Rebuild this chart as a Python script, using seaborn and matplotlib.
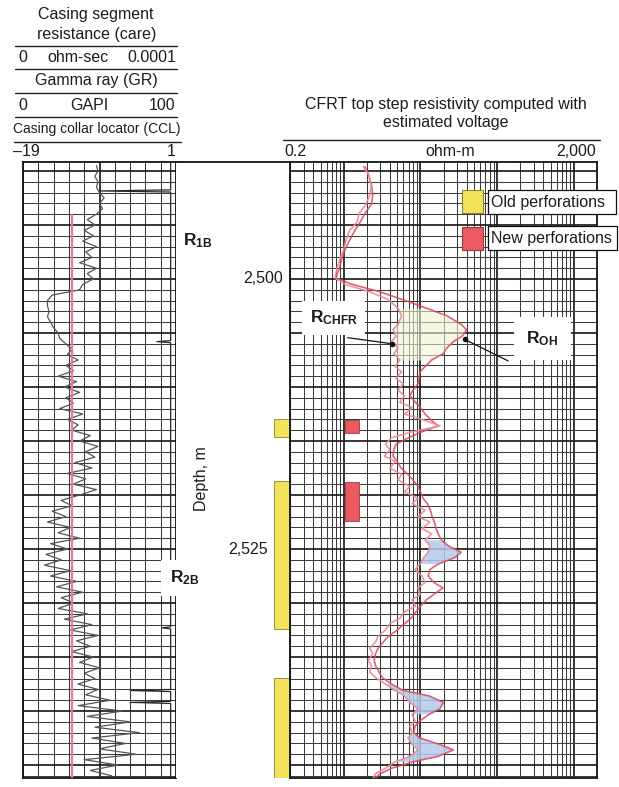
import numpy as np
import pandas as pd
import matplotlib
matplotlib.use("Agg")
import matplotlib.pyplot as plt
import seaborn as sns
from matplotlib.ticker import MultipleLocator, FixedLocator, LogLocator, NullFormatter
from matplotlib.lines import Line2D
from matplotlib.patches import Rectangle

# ---------------- data ----------------
# Gamma ray (GAPI) vs depth (m)
gr_depth = [2489.5, 2490.0, 2490.5, 2491.0, 2491.5, 2492.0, 2492.5, 2493.0, 2493.5, 2494.0,
            2494.5, 2495.0, 2495.5, 2496.0, 2496.5, 2497.0, 2497.5, 2498.0, 2498.5, 2499.0,
            2499.5, 2500.0, 2500.5, 2501.0, 2501.5, 2502.0, 2502.5, 2503.0, 2503.5, 2504.0,
            2504.5, 2505.0, 2505.5, 2506.0, 2506.5, 2507.0, 2507.5, 2508.0, 2508.5, 2509.0,
            2509.5, 2510.0, 2510.5, 2511.0, 2511.5, 2512.0, 2512.5, 2513.0, 2513.5, 2514.0,
            2514.5, 2515.0, 2515.5, 2516.0, 2516.5, 2517.0, 2517.5, 2518.0, 2518.5, 2519.0,
            2519.5, 2520.0, 2520.5, 2521.0, 2521.5, 2522.0, 2522.5, 2523.0, 2523.5, 2524.0,
            2524.5, 2525.0, 2525.5, 2526.0, 2526.5, 2527.0, 2527.5, 2528.0, 2528.5, 2529.0,
            2529.5, 2530.0, 2530.5, 2531.0, 2531.5, 2532.0, 2532.5, 2533.0, 2533.5, 2534.0,
            2534.5, 2535.0, 2535.5, 2536.0, 2536.5, 2537.0, 2537.5, 2538.0, 2538.5, 2539.0,
            2539.5, 2540.0, 2540.5, 2541.0, 2541.5, 2542.0, 2542.5, 2543.0, 2543.5, 2544.0,
            2544.5, 2545.0, 2545.5, 2546.0]
gr_gapi = [48, 49, 47, 49, 48, 50, 53, 50, 52, 48,
           42, 47, 40, 46, 39, 48, 41, 45, 37, 48,
           42, 46, 39, 37, 19, 16, 16, 17, 16, 18,
           20, 23, 24, 28, 32, 29, 36, 28, 33, 23,
           35, 27, 37, 28, 33, 24, 39, 29, 36, 32,
           44, 37, 49, 41, 47, 34, 45, 29, 41, 33,
           48, 37, 25, 32, 19, 28, 16, 31, 23, 37,
           18, 29, 15, 25, 14, 31, 18, 35, 22, 39,
           25, 33, 23, 42, 27, 45, 31, 49, 35, 44,
           32, 46, 37, 50, 40, 47, 36, 49, 41, 57,
           36, 65, 42, 70, 47, 76, 45, 67, 50, 74,
           40, 62, 44, 58]

# Casing collar locator
ccl_depth = [2489.2, 2491.75, 2491.85, 2491.95, 2505.7, 2505.8, 2505.9, 2532.2, 2532.3, 2532.4,
             2538.0, 2538.1, 2538.2, 2539.1, 2539.2, 2539.3, 2546.2]
ccl_value = [0.3, 0.3, -9.0, 0.3, 0.3, -1.5, 0.3, 0.3, -0.8, 0.3,
             0.3, -5.0, 0.3, 0.3, -5.0, 0.3, 0.3]

# Casing segment resistance
care_depth = [2494.1, 2546.2]
care_value = [3.2e-5, 3.2e-5]

# Resistivity curves (ohm-m)
res_depth = [2489.6, 2490.3, 2491.3, 2492.2, 2493.1, 2493.9, 2494.7, 2495.5, 2496.4, 2497.3,
             2498.1, 2499.0, 2499.9, 2500.5, 2501.2, 2501.9, 2502.7, 2503.4, 2504.2, 2504.7,
             2505.3, 2505.8, 2506.4, 2506.9, 2507.5, 2508.1, 2508.6, 2509.2, 2509.7, 2510.3,
             2510.8, 2511.4, 2511.9, 2512.5, 2513.1, 2513.6, 2514.2, 2514.7, 2515.3, 2515.8,
             2516.4, 2516.9, 2517.5, 2518.1, 2518.6, 2519.2, 2519.7, 2520.3, 2520.8, 2521.4,
             2522.0, 2522.5, 2523.1, 2523.6, 2524.2, 2524.7, 2525.3, 2525.8, 2526.4, 2526.9,
             2527.5, 2528.1, 2528.6, 2529.2, 2529.7, 2530.3, 2530.8, 2531.4, 2531.9, 2532.5,
             2533.1, 2533.6, 2534.2, 2534.7, 2535.3, 2535.8, 2536.4, 2536.9, 2537.5, 2538.1,
             2538.6, 2539.2, 2539.8, 2540.3, 2540.9, 2541.4, 2542.0, 2542.5, 2543.1, 2543.6,
             2544.2, 2544.7, 2545.3, 2545.8, 2546.3]
r_chfr = [1.8, 2.1, 2.3, 2.2, 1.95, 1.6, 1.5, 1.2, 1.07, 1.0,
          0.9, 0.82, 0.77, 1.05, 2.2, 3.8, 5.1, 5.7, 5.1, 4.4,
          4.8, 4.2, 5.1, 4.5, 5.4, 4.7, 5.7, 4.8, 6.0, 5.1,
          6.2, 5.4, 7.8, 6.2, 11.5, 18, 7.3, 4.2, 3.5, 4.0,
          3.4, 4.7, 4.0, 5.7, 5.1, 7.3, 6.2, 9.3, 7.8, 11.5,
          9.3, 13.3, 10.5, 14, 11.5, 13.3, 12.6, 11, 9.9, 8.5,
          10.5, 11.5, 9.3, 9.9, 7.8, 8.6, 6.2, 5.4, 4.0, 3.5,
          2.8, 2.6, 2.2, 2.4, 2.1, 2.3, 2.2, 2.6, 3.5, 4.7,
          6.2, 7.3, 9.3, 7.8, 8.5, 7.3, 7.8, 6.9, 7.8, 9.3,
          7.3, 4.7, 3.5, 2.6, 2.4]
r_oh = [1.9, 2.1, 2.3, 2.4, 2.3, 1.9, 1.65, 1.4, 1.2, 1.04,
        0.95, 0.88, 0.79, 1.3, 3.0, 5.8, 12, 22, 34, 40,
        35, 27, 22, 20, 14, 11.5, 9.9, 9.6, 9.3, 8.0,
        7.3, 8.6, 10, 11.5, 14, 17, 10, 7, 4.8, 4.5,
        4.4, 5.0, 5.6, 6.9, 8.0, 9.3, 10, 10.8, 12.3, 13.5,
        14.2, 15.2, 16, 17, 19, 23, 34, 28, 17, 13.3,
        12.6, 15, 19.7, 15, 12, 10, 8.8, 7.6, 6.2, 5.0,
        3.8, 3.3, 2.8, 2.6, 2.5, 2.6, 2.9, 3.2, 4.2, 6.0,
        13, 20, 18, 13, 9.9, 8.5, 8.2, 9.9, 18, 27,
        17, 8, 4.2, 3.0, 2.5]
blue_zones = [(2524.2, 2526.4), (2537.5, 2540.3), (2542.0, 2544.7)]
pale_zones = [(2502.5, 2507.5)]

# Perforations (top, bottom depth)
old_perf_top = [2513.0, 2518.7, 2536.9]
old_perf_bot = [2514.6, 2532.4, 2546.2]
new_perf_top = [2513.1, 2518.8]
new_perf_bot = [2514.3, 2522.4]

depth_ticks = [2500, 2525]
depth_tick_labels = ["2,500", "2,525"]

# ---------------- style ----------------
sns.set_theme(style="white")
plt.rcParams["font.family"] = ["Liberation Sans", "DejaVu Sans"]
plt.rcParams["mathtext.fontset"] = "custom"
plt.rcParams["mathtext.rm"] = "Liberation Sans"
plt.rcParams["mathtext.bf"] = "Liberation Sans:bold"
plt.rcParams["mathtext.it"] = "Liberation Sans:italic"

W, H = 619, 787
fig = plt.figure(figsize=(W / 100, H / 100), dpi=100)
fig.patch.set_facecolor("white")

def fx(x):
    return x / W

def fy(y):
    return 1 - y / H

def rect(x0, y0, x1, y1):
    return [fx(x0), fy(y1), fx(x1) - fx(x0), fy(y0) - fy(y1)]

TOP_Y, BOT_Y = 162, 778
D_TOP, D_BOT = 2489.17, 2546.2
TXT = "#1c1c1c"
YEL, YEL_E = "#f3e35c", "#8c8330"
RED, RED_E = "#ea5a60", "#a03a3a"

ax_gr = fig.add_axes(rect(23, TOP_Y, 176, BOT_Y))
ax_mid = fig.add_axes(rect(176, TOP_Y, 290, BOT_Y))
ax_r = fig.add_axes(rect(290, TOP_Y, 597, BOT_Y))

def depth_grid(ax):
    ax.set_ylim(D_BOT, D_TOP)
    ax.yaxis.set_major_locator(MultipleLocator(5))
    ax.yaxis.set_minor_locator(MultipleLocator(1))
    ax.grid(True, which="major", axis="both", color="#1e1e1e", lw=1.25)
    ax.grid(True, which="minor", axis="both", color="#3c3c3c", lw=0.75)
    ax.set_axisbelow(True)
    ax.tick_params(which="both", length=0, labelleft=False, labelbottom=False)
    for s in ax.spines.values():
        s.set_color("#111111")
        s.set_linewidth(1.3)
    ax.set_xlabel("")
    ax.set_ylabel("")

# ---- left track ----
ax_gr.set_xlim(0, 100)
ax_gr.xaxis.set_major_locator(FixedLocator([50]))
ax_gr.xaxis.set_minor_locator(MultipleLocator(10))
depth_grid(ax_gr)
sns.lineplot(x=gr_gapi, y=gr_depth, orient="y", sort=False, estimator=None,
             ax=ax_gr, color="#555555", lw=0.9)
ax_care = ax_gr.twiny()
ax_care.set_xlim(0, 1e-4)
sns.lineplot(x=care_value, y=care_depth, orient="y", sort=False, estimator=None,
             ax=ax_care, color="#e27a98", lw=1.6)
ax_ccl = ax_gr.twiny()
ax_ccl.set_xlim(-19, 1)
sns.lineplot(x=ccl_value, y=ccl_depth, orient="y", sort=False, estimator=None,
             ax=ax_ccl, color="#2a2a2a", lw=0.9)
for a in (ax_care, ax_ccl):
    a.set_ylim(D_BOT, D_TOP)
    a.xaxis.set_visible(False)
    a.set_xlabel("")
    a.set_ylabel("")
    for s in a.spines.values():
        s.set_visible(False)
ax_gr.set_ylim(D_BOT, D_TOP)

# ---- middle (depth) ----
ax_mid.set_xlim(0, 1)
ax_mid.set_ylim(D_BOT, D_TOP)
ax_mid.set_xticks([])
ax_mid.set_yticks([])
for k, s in ax_mid.spines.items():
    s.set_visible(k == "top")
    s.set_linewidth(1.3)
    s.set_color("#111111")
ot = np.array(old_perf_top); ob = np.array(old_perf_bot)
ax_mid.barh(y=(ot + ob) / 2, width=0.14, left=0.86, height=ob - ot,
            color=YEL, edgecolor=YEL_E, lw=0.6)
ax_mid.text(0.94, depth_ticks[0], depth_tick_labels[0], ha="right", va="center",
            fontsize=11.5, color=TXT)
ax_mid.text(0.81, depth_ticks[1], depth_tick_labels[1], ha="right", va="center",
            fontsize=11.5, color=TXT)
ax_mid.text(0.22, 2518.5, "Depth, m", rotation=90, ha="center", va="center",
            fontsize=11.5, color=TXT)

# ---- right track ----
ax_r.set_xscale("log")
ax_r.set_xlim(0.2, 2000)
ax_r.xaxis.set_major_locator(LogLocator(base=10, numticks=10))
ax_r.xaxis.set_minor_locator(LogLocator(base=10, subs=[2, 3, 4, 5, 6, 7, 8, 9], numticks=20))
ax_r.xaxis.set_minor_formatter(NullFormatter())
depth_grid(ax_r)

rd = np.array(res_depth); rc = np.array(r_chfr); ro = np.array(r_oh)
blue_mask = np.zeros(len(rd), bool)
for a, b in blue_zones:
    blue_mask |= (rd >= a) & (rd <= b)
pale_mask = np.zeros(len(rd), bool)
for a, b in pale_zones:
    pale_mask |= (rd >= a) & (rd <= b)
ax_r.fill_betweenx(rd, rc, ro, where=blue_mask, color="#b4c9ea", alpha=0.85, lw=0, zorder=2)
ax_r.fill_betweenx(rd, rc, ro, where=pale_mask, color="#f1f2d4", alpha=0.6, lw=0, zorder=2)
sns.lineplot(x=r_oh, y=res_depth, orient="y", sort=False, estimator=None,
             ax=ax_r, color="#d84a5c", lw=1.2, alpha=0.85, zorder=3)
sns.lineplot(x=r_chfr, y=res_depth, orient="y", sort=False, estimator=None,
             ax=ax_r, color="#e98a98", lw=1.2, alpha=0.9, zorder=3)
nt = np.array(new_perf_top); nb = np.array(new_perf_bot)
ax_r.barh(y=(nt + nb) / 2, width=0.55, left=1.04, height=nb - nt,
          color=RED, edgecolor=RED_E, lw=0.6, zorder=4)
ax_r.set_xlabel("")
ax_r.set_ylabel("")
ax_r.set_ylim(D_BOT, D_TOP)
ax_r.set_xlim(0.2, 2000)

# labels on curves
ax_r.annotate("", xy=(4.3, 2506.0), xytext=(1.04, 2505.4),
              arrowprops=dict(arrowstyle="-", color="#111111", lw=0.9), zorder=6)
ax_r.plot([4.3], [2506.0], "o", ms=3, color="#111111", zorder=6)
ax_r.text(0.74, 2503.6, r"$\mathbf{R}_{\mathbf{CHFR}}$", ha="center", va="center",
          fontsize=12.5, color=TXT, zorder=7,
          bbox=dict(boxstyle="square,pad=0.45", fc="white", ec="none"))
ax_r.annotate("", xy=(38, 2505.6), xytext=(150, 2507.7),
              arrowprops=dict(arrowstyle="-", color="#111111", lw=0.9), zorder=6)
ax_r.plot([38], [2505.6], "o", ms=3, color="#111111", zorder=6)
ax_r.text(390, 2505.5, r"$\mathbf{R}_{\mathbf{OH}}$", ha="center", va="center",
          fontsize=12.5, color=TXT, zorder=7,
          bbox=dict(boxstyle="square,pad=0.7", fc="white", ec="none"))

# ---------------- header text ----------------
def t(x, y, s, ha="center", size=11.5, **kw):
    fig.text(fx(x), fy(y), s, ha=ha, va="center", fontsize=size, color=TXT, **kw)

def hline(x0, x1, y, lw=1.0):
    fig.add_artist(Line2D([fx(x0), fx(x1)], [fy(y), fy(y)], color="#222222", lw=lw))

t(96, 15, "Casing segment")
t(97, 35, "resistance (care)")
hline(15, 177, 46)
t(18, 58, "0", ha="left"); t(78, 58, "ohm-sec"); t(176, 58, "0.0001", ha="right")
hline(15, 177, 69)
t(96, 81, "Gamma ray (GR)")
hline(15, 177, 93)
t(18, 106, "0", ha="left"); t(89, 106, "GAPI"); t(175, 106, "100", ha="right")
hline(15, 177, 117)
t(97, 129, "Casing collar locator (CCL)", size=10)
hline(14, 181, 142)
t(13, 152, "\u201319", ha="left"); t(176, 152, "1", ha="right")

t(446, 105, "CFRT top step resistivity computed with")
t(446, 123, "estimated voltage")
hline(283, 600, 140)
t(284, 151, "0.2", ha="left"); t(450, 151, "ohm-m"); t(596, 151, "2,000", ha="right")

# Bed labels
fig.text(fx(183), fy(241), r"$\mathbf{R}_{\mathbf{1B}}$", ha="left", va="center",
         fontsize=12.5, color=TXT)
fig.text(fx(170), fy(578), r"$\mathbf{R}_{\mathbf{2B}}$", ha="left", va="center",
         fontsize=12.5, color=TXT,
         bbox=dict(boxstyle="square,pad=0.5", fc="white", ec="none"))

# Legend
fig.add_artist(Rectangle((fx(462), fy(213)), fx(483) - fx(462), fy(190) - fy(213),
                         transform=fig.transFigure, fc=YEL, ec=YEL_E, lw=0.8))
fig.add_artist(Rectangle((fx(462), fy(250)), fx(483) - fx(462), fy(227) - fy(250),
                         transform=fig.transFigure, fc=RED, ec=RED_E, lw=0.8))
fig.add_artist(Rectangle((fx(488), fy(214)), fx(616) - fx(488), fy(190) - fy(214),
                         transform=fig.transFigure, fc="white", ec="#111111", lw=0.9))
fig.add_artist(Rectangle((fx(488), fy(250)), fx(617) - fx(488), fy(226) - fy(250),
                         transform=fig.transFigure, fc="white", ec="#111111", lw=0.9))
t(491, 202, "Old perforations", ha="left")
t(491, 238, "New perforations", ha="left")

fig.savefig("out.png", dpi=100, facecolor="white")
